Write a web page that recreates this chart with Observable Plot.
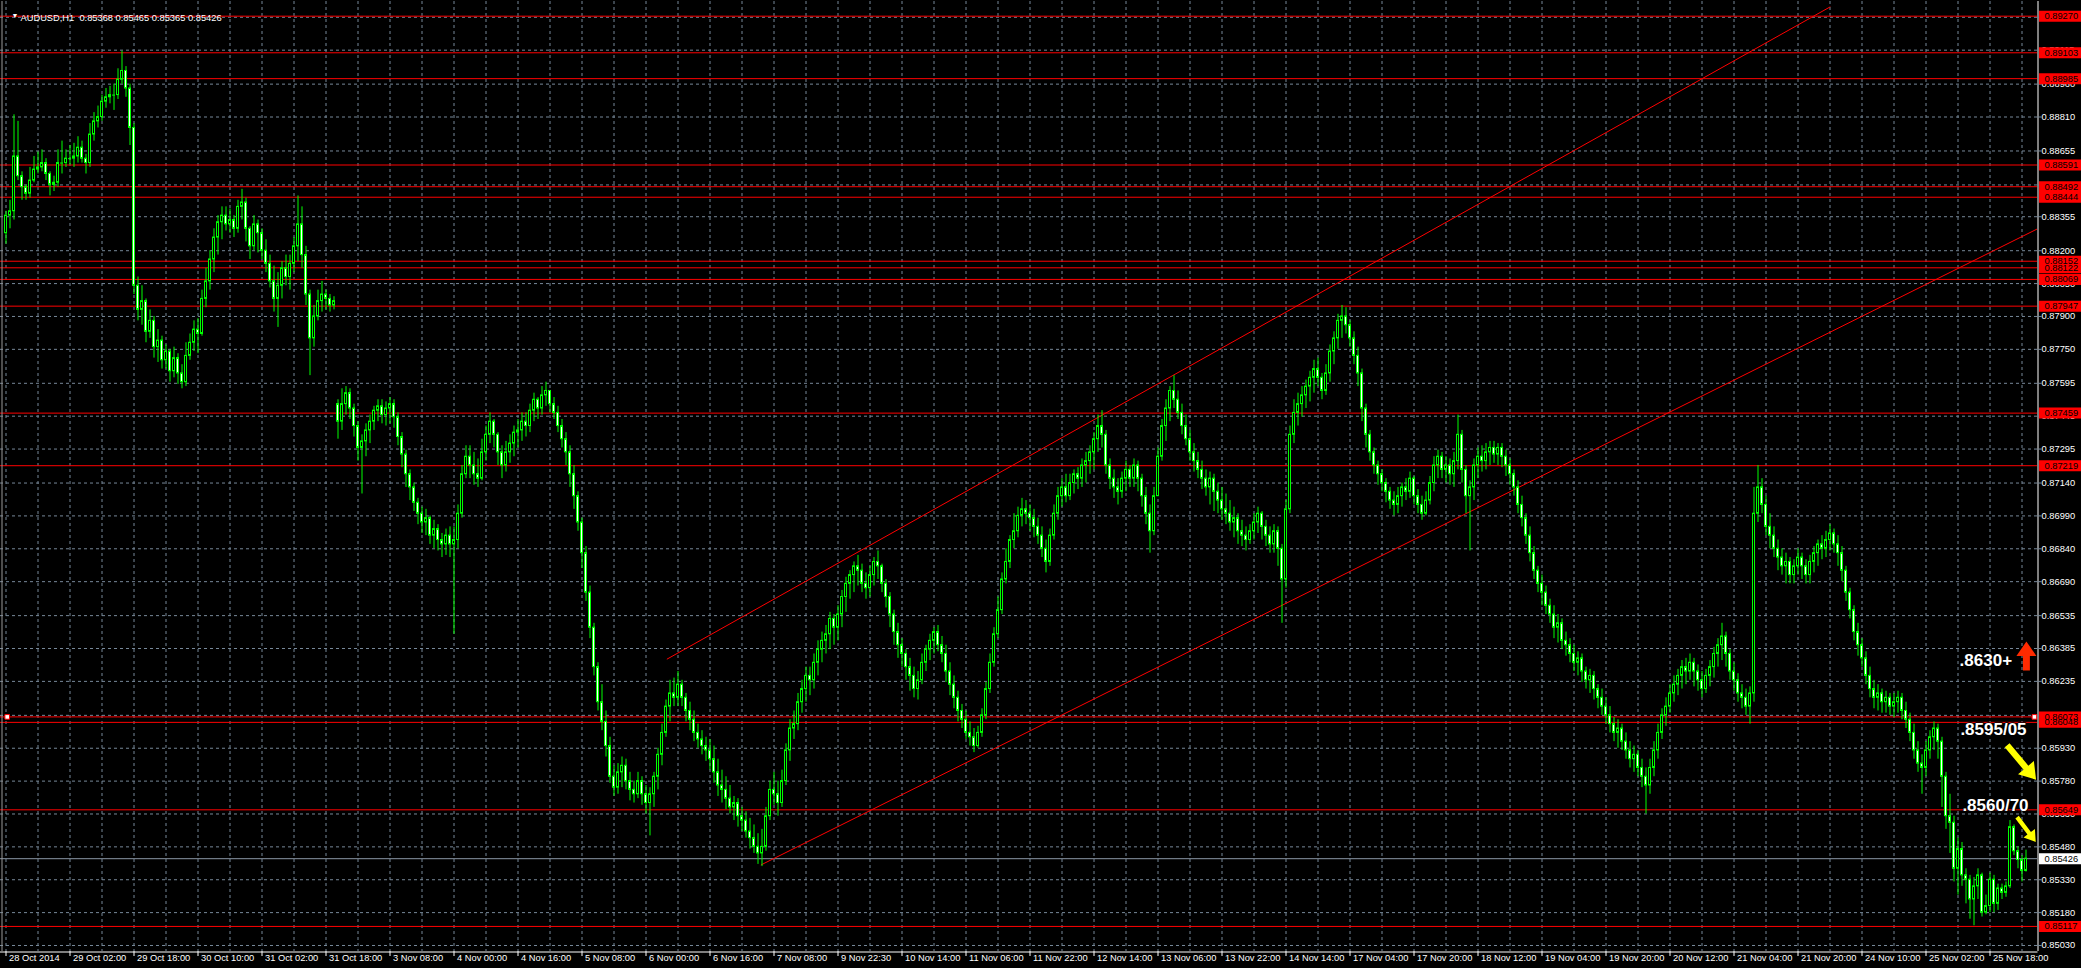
<!DOCTYPE html>
<html><head><meta charset="utf-8">
<script src="https://cdn.jsdelivr.net/npm/d3@7"></script>
<script src="https://cdn.jsdelivr.net/npm/@observablehq/plot@0.6"></script>
<style>
html,body{margin:0;padding:0;background:#000;overflow:hidden}
svg{display:block}
</style></head><body>
<div id="chart"></div>
<script>
// ---------- data ----------
const symbolName = "AUDUSD", timeframe = "H1";
const lastOHLC = [0.85368, 0.85465, 0.85365, 0.85426];

const timeLabels = ["28 Oct 2014","29 Oct 02:00","29 Oct 18:00","30 Oct 10:00","31 Oct 02:00","31 Oct 18:00",
  "3 Nov 08:00","4 Nov 00:00","4 Nov 16:00","5 Nov 08:00","6 Nov 00:00","6 Nov 16:00","7 Nov 08:00",
  "9 Nov 22:30","10 Nov 14:00","11 Nov 06:00","11 Nov 22:00","12 Nov 14:00","13 Nov 06:00","13 Nov 22:00",
  "14 Nov 14:00","17 Nov 04:00","17 Nov 20:00","18 Nov 12:00","19 Nov 04:00","19 Nov 20:00","20 Nov 12:00",
  "21 Nov 04:00","21 Nov 20:00","24 Nov 10:00","25 Nov 02:00","25 Nov 18:00"];

// hourly bars, prices x 0.0001 (open = previous close unless listed in gapOpens)
const firstOpen = 8828;
const gapOpens = [[83, 8750]];
const closes = [
 8836,8838,8863,8854,8849,8846,8852,8857,8858,8860,8855,8850,8851,8860,8860,8862,
 8862,8863,8867,8862,8860,8873,8879,8881,8888,8890,8891,8891,8898,8902,8894,8876,
 8804,8793,8797,8783,8788,8776,8779,8770,8774,8765,8771,8764,8760,8772,8778,8784,
 8782,8798,8806,8816,8826,8833,8836,8832,8834,8830,8840,8842,8830,8822,8832,8828,
 8820,8814,8806,8798,8804,8812,8808,8814,8822,8832,8818,8800,8780,8790,8797,8800,
 8798,8795,8797,8742,8750,8755,8748,8740,8730,8733,8738,8742,8747,8749,8745,8748,
 8750,8744,8735,8727,8718,8712,8705,8700,8696,8698,8690,8693,8688,8686,8690,8686,
 8688,8700,8718,8726,8722,8718,8716,8728,8736,8742,8736,8728,8722,8728,8732,8737,
 8738,8742,8740,8747,8752,8748,8754,8756,8750,8746,8740,8734,8728,8718,8708,8696,
 8682,8664,8648,8630,8614,8605,8594,8580,8575,8582,8585,8578,8574,8572,8578,8572,
 8568,8572,8580,8590,8600,8612,8618,8616,8622,8616,8610,8606,8600,8597,8594,8592,
 8588,8582,8576,8574,8570,8566,8568,8562,8560,8555,8552,8548,8545,8548,8562,8574,
 8572,8568,8578,8592,8602,8604,8614,8620,8626,8624,8632,8638,8642,8645,8652,8648,
 8654,8662,8668,8672,8676,8674,8668,8666,8672,8678,8676,8668,8662,8654,8646,8640,
 8636,8630,8626,8620,8624,8632,8638,8642,8646,8640,8636,8628,8622,8616,8610,8606,
 8600,8598,8594,8600,8608,8620,8632,8645,8656,8670,8678,8688,8692,8699,8702,8700,
 8698,8694,8690,8684,8678,8690,8700,8708,8712,8708,8714,8718,8716,8722,8724,8728,
 8734,8740,8736,8722,8716,8712,8710,8716,8720,8716,8722,8716,8708,8700,8692,8708,
 8726,8740,8748,8756,8752,8746,8740,8734,8728,8724,8720,8716,8712,8716,8710,8706,
 8702,8700,8696,8698,8692,8690,8688,8692,8696,8700,8694,8690,8686,8692,8684,8670,
 8702,8736,8746,8750,8754,8758,8762,8766,8762,8756,8764,8774,8780,8788,8790,8786,
 8780,8772,8764,8748,8736,8728,8722,8718,8714,8710,8706,8704,8708,8712,8710,8716,
 8708,8704,8700,8706,8714,8722,8726,8720,8722,8718,8724,8736,8720,8708,8712,8722,
 8726,8724,8728,8730,8727,8730,8726,8722,8718,8712,8704,8698,8690,8682,8674,8668,
 8664,8658,8654,8648,8650,8642,8640,8636,8632,8634,8628,8624,8626,8620,8616,8612,
 8608,8604,8600,8602,8596,8592,8588,8590,8584,8580,8576,8584,8592,8600,8608,8612,
 8618,8622,8626,8630,8628,8632,8628,8624,8620,8626,8630,8636,8640,8644,8636,8628,
 8624,8618,8616,8612,8618,8700,8712,8704,8694,8690,8684,8680,8676,8678,8672,8676,
 8680,8676,8672,8678,8682,8686,8684,8688,8691,8686,8682,8674,8664,8656,8646,8640,
 8634,8626,8620,8616,8618,8614,8616,8612,8614,8616,8610,8606,8600,8592,8586,8584,
 8592,8598,8602,8596,8580,8562,8559,8538,8547,8535,8533,8524,8530,8535,8518,8521,
 8533,8522,8529,8527,8530,8557,8546,8542,8537,8542.6
];
const highs = [
 8838,8843,8882,8879,8856,8850,8858,8863,8865,8866,8862,8856,8854,8866,8870,8866,
 8868,8869,8872,8870,8864,8878,8883,8886,8891,8894,8895,8896,8903,8911,8904,8896,
 8878,8808,8804,8798,8793,8790,8784,8781,8777,8775,8776,8773,8768,8778,8782,8788,
 8789,8802,8812,8820,8830,8836,8840,8840,8839,8836,8843,8848,8844,8831,8836,8834,
 8830,8825,8818,8813,8810,8815,8818,8818,8826,8845,8840,8822,8802,8795,8802,8806,
 8802,8800,8799,8752,8757,8758,8757,8750,8742,8736,8741,8745,8749,8752,8752,8751,
 8753,8752,8746,8737,8729,8720,8714,8707,8703,8702,8699,8697,8695,8691,8693,8694,
 8694,8704,8722,8731,8731,8728,8725,8734,8740,8746,8743,8737,8731,8733,8736,8740,
 8743,8746,8746,8750,8755,8753,8758,8760,8756,8753,8749,8743,8737,8731,8722,8710,
 8698,8685,8667,8650,8632,8622,8610,8598,8585,8586,8589,8588,8582,8578,8582,8580,
 8576,8575,8582,8593,8604,8615,8624,8625,8628,8624,8618,8614,8610,8604,8601,8598,
 8597,8594,8588,8583,8580,8576,8571,8570,8566,8564,8561,8558,8554,8556,8566,8578,
 8582,8578,8583,8595,8606,8610,8618,8624,8630,8630,8636,8642,8646,8649,8655,8654,
 8658,8665,8671,8674,8678,8681,8677,8673,8676,8680,8683,8677,8670,8664,8656,8650,
 8643,8638,8634,8630,8628,8636,8640,8645,8648,8649,8644,8640,8632,8626,8619,8613,
 8610,8605,8602,8603,8611,8623,8636,8648,8662,8673,8684,8690,8700,8703,8707,8706,
 8704,8702,8698,8694,8688,8693,8704,8712,8716,8718,8718,8720,8721,8725,8728,8731,
 8737,8745,8747,8738,8725,8720,8716,8719,8724,8722,8725,8724,8718,8712,8704,8712,
 8730,8743,8752,8758,8763,8756,8750,8745,8738,8732,8728,8724,8720,8719,8718,8714,
 8712,8709,8706,8703,8700,8697,8694,8695,8700,8703,8701,8697,8694,8695,8694,8686,
 8706,8740,8752,8755,8758,8761,8765,8770,8771,8764,8768,8777,8783,8791,8795,8794,
 8788,8783,8776,8766,8750,8738,8730,8724,8720,8716,8712,8710,8712,8714,8716,8719,
 8717,8711,8708,8710,8717,8726,8729,8728,8726,8725,8728,8745,8738,8722,8715,8725,
 8730,8731,8732,8733,8733,8732,8732,8729,8725,8720,8715,8708,8700,8694,8685,8676,
 8672,8667,8661,8658,8654,8652,8646,8643,8640,8637,8636,8630,8629,8628,8622,8620,
 8616,8612,8607,8606,8604,8600,8596,8594,8592,8588,8584,8588,8596,8604,8611,8616,
 8622,8626,8629,8633,8634,8636,8634,8631,8628,8629,8633,8639,8643,8650,8646,8638,
 8632,8627,8622,8620,8621,8712,8722,8716,8708,8700,8694,8688,8684,8682,8680,8679,
 8684,8682,8679,8681,8685,8688,8690,8692,8695,8693,8690,8685,8676,8666,8658,8650,
 8643,8637,8630,8624,8622,8620,8619,8618,8618,8619,8618,8614,8609,8604,8596,8590,
 8596,8601,8605,8604,8598,8582,8572,8562,8552,8550,8538,8535,8534,8538,8536,8526,
 8536,8535,8531,8531,8532,8560,8558,8548,8544,8546.5
];
const lows = [
 8823,8830,8834,8852,8843,8843,8844,8851,8855,8856,8852,8845,8847,8849,8855,8858,
 8859,8858,8860,8860,8855,8858,8870,8876,8879,8885,8887,8884,8889,8896,8890,8868,
 8800,8788,8786,8778,8780,8771,8769,8766,8766,8760,8762,8759,8757,8758,8770,8774,
 8773,8781,8794,8802,8810,8818,8825,8829,8828,8826,8828,8834,8824,8816,8820,8819,
 8816,8810,8803,8792,8785,8798,8804,8802,8810,8815,8812,8795,8763,8776,8788,8792,
 8793,8792,8793,8734,8738,8745,8743,8735,8724,8709,8726,8732,8738,8742,8741,8740,
 8741,8739,8731,8721,8712,8706,8701,8695,8691,8690,8686,8684,8683,8680,8681,8680,
 8645,8684,8698,8716,8716,8713,8712,8715,8724,8732,8730,8722,8716,8719,8723,8726,
 8730,8733,8735,8737,8742,8743,8745,8749,8746,8743,8737,8730,8722,8712,8702,8692,
 8675,8660,8643,8626,8610,8601,8589,8577,8571,8572,8575,8574,8569,8568,8570,8567,
 8563,8553,8566,8574,8585,8598,8605,8612,8612,8612,8605,8601,8596,8593,8590,8587,
 8583,8577,8571,8568,8565,8563,8560,8557,8555,8552,8547,8545,8540,8539,8546,8560,
 8567,8562,8566,8576,8587,8597,8601,8609,8614,8617,8620,8626,8632,8636,8638,8640,
 8642,8648,8655,8661,8664,8667,8664,8661,8662,8667,8670,8664,8657,8648,8640,8634,
 8630,8624,8619,8616,8615,8622,8628,8633,8636,8637,8632,8623,8617,8611,8605,8602,
 8597,8594,8591,8593,8598,8606,8618,8630,8643,8654,8668,8675,8684,8689,8694,8695,
 8692,8689,8686,8680,8673,8676,8688,8697,8703,8705,8706,8709,8711,8712,8714,8718,
 8720,8728,8730,8718,8711,8707,8704,8707,8710,8712,8712,8710,8703,8695,8682,8690,
 8708,8724,8733,8742,8748,8743,8736,8731,8724,8719,8716,8711,8708,8704,8701,8700,
 8697,8695,8692,8689,8686,8685,8683,8686,8688,8691,8688,8685,8682,8682,8676,8650,
 8666,8700,8732,8740,8744,8748,8751,8755,8758,8752,8754,8760,8768,8775,8780,8782,
 8776,8768,8758,8742,8730,8724,8718,8713,8710,8705,8702,8699,8700,8703,8706,8707,
 8704,8700,8697,8699,8704,8710,8716,8716,8714,8713,8712,8720,8714,8700,8683,8706,
 8716,8719,8720,8722,8723,8722,8721,8717,8713,8708,8700,8694,8686,8678,8670,8664,
 8658,8654,8650,8643,8641,8638,8635,8632,8628,8626,8623,8620,8618,8615,8611,8608,
 8604,8600,8596,8593,8592,8588,8584,8582,8580,8575,8563,8572,8580,8588,8597,8603,
 8609,8614,8617,8620,8622,8624,8621,8619,8616,8618,8621,8625,8630,8633,8630,8624,
 8619,8614,8611,8608,8604,8614,8696,8700,8690,8684,8680,8674,8672,8668,8668,8668,
 8672,8670,8668,8668,8673,8676,8679,8680,8683,8682,8676,8669,8660,8652,8642,8635,
 8630,8622,8616,8611,8610,8609,8609,8608,8607,8609,8606,8602,8596,8588,8582,8572,
 8580,8588,8592,8588,8566,8556,8545,8532,8526,8530,8522,8515,8512,8524,8516,8517,
 8518,8518,8519,8524,8525,8529,8544,8538,8532,8536.5
];

const levelPrices = [0.89270,0.89103,0.88985,0.88591,0.88492,0.88444,0.88122,0.88152,0.88069,
  0.87947,0.87459,0.87219,0.86073,0.86048,0.85649,0.85117];
const bidPrice = 0.85426;
const gridPrices = [0.85030,0.85180,0.85330,0.85480,0.85630,0.85780,0.85930,0.86080,0.86235,0.86385,
  0.86535,0.86690,0.86840,0.86990,0.87140,0.87295,0.87445,0.87595,0.87750,0.87900,0.88050,0.88200,
  0.88355,0.88500,0.88655,0.88810,0.88960,0.89115,0.89265];

const trendUpper = [{i:165.3, p:0.86337},{i:456.0, p:0.89312}];
const trendLower = [{i:188.8, p:0.85398},{i:507.9, p:0.88300}];

const notes = [
  {text:".8630+",   i:488.4, p:0.86330},
  {text:".8595/05", i:488.6, p:0.86016},
  {text:".8560/70", i:489.1, p:0.85669}
];
const redArrows = [{i:505.1, p:0.86351, rot:0, r:14.5}];
const yellowArrows = [{i:503.9, p:0.85865, rot:140, r:22.5},{i:505.1, p:0.85559, rot:143, r:15.5}];
const handles = [{i:0.3, p:0.86073},{i:507.1, p:0.86073}];

// ---------- geometry ----------
const BARS_PER_LABEL = 16, BARS_PER_GRID = 8;
const xDomain = [-1.375, 507.875];           // bar index -> 4 px per bar
const yDomain = [0.850026, 0.893370];
const pxPerPrice = 950 / (yDomain[1] - yDomain[0]);
const belowAxis = px => yDomain[0] - px / pxPerPrice;

const gapMap = new Map(gapOpens);
const bars = closes.map((c, k) => {
  const o = gapMap.get(k) ?? (k ? closes[k - 1] : firstOpen);
  const hi = Math.max(o, c, highs[k]), lo = Math.min(o, c, lows[k]);
  return {i: k, o: o / 1e4, c: c / 1e4, hi: hi / 1e4, lo: lo / 1e4};
});
const bodies = bars.filter(d => d.o !== d.c);
const dojis = bars.filter(d => d.o === d.c);
const gridIdx = d3.range(0, closes.length, BARS_PER_GRID);
const labelIdx = timeLabels.map((_, k) => k * BARS_PER_LABEL);

const upArrow = {draw(ctx, size){const r=Math.sqrt(size/Math.PI);
  ctx.moveTo(0,-r);ctx.lineTo(0.69*r,0);ctx.lineTo(0.24*r,0);ctx.lineTo(0.24*r,r);
  ctx.lineTo(-0.24*r,r);ctx.lineTo(-0.24*r,0);ctx.lineTo(-0.69*r,0);ctx.closePath();}};
const thinArrow = {draw(ctx, size){const r=Math.sqrt(size/Math.PI);
  ctx.moveTo(0,-r);ctx.lineTo(0.46*r,-0.3*r);ctx.lineTo(0.14*r,-0.3*r);ctx.lineTo(0.14*r,r);
  ctx.lineTo(-0.14*r,r);ctx.lineTo(-0.14*r,-0.3*r);ctx.lineTo(-0.46*r,-0.3*r);ctx.closePath();}};

const GREEN = "#00ff00", GRID = "#778899", RED = "#ff0000";
const labelX1 = 508.375, labelX2 = 518.875;

const chart = Plot.plot({
  width: 2081, height: 968,
  marginTop: 1, marginRight: 44, marginBottom: 17, marginLeft: 0,
  style: {background: "#000", color: "#fff", fontFamily: "'Liberation Sans', Arial, sans-serif", fontSize: "9.3px"},
  x: {type: "linear", domain: xDomain, axis: null},
  y: {type: "linear", domain: yDomain, axis: null},
  r: {type: "identity"},
  marks: [
    Plot.ruleX(gridIdx, {x: d => d, stroke: GRID, strokeDasharray: "3,3"}),
    Plot.ruleY(gridPrices, {y: d => d, stroke: GRID, strokeDasharray: "3,3"}),
    Plot.ruleY(levelPrices, {y: d => d, stroke: RED, strokeWidth: 1}),
    Plot.ruleY([bidPrice], {y: d => d, stroke: "#8a97a6"}),
    Plot.line(trendUpper, {x: "i", y: "p", stroke: RED, strokeWidth: 1, clip: true}),
    Plot.line(trendLower, {x: "i", y: "p", stroke: RED, strokeWidth: 1, clip: true}),
    Plot.ruleX(bars, {x: "i", y1: "lo", y2: "hi", stroke: GREEN}),
    Plot.rect(bodies, {x1: d => d.i - 0.25, x2: d => d.i + 0.25, y1: "o", y2: "c",
      fill: d => d.c > d.o ? "#000" : "#fff", stroke: GREEN, strokeWidth: 1}),
    Plot.ruleY(dojis, {y: "c", x1: d => d.i - 0.375, x2: d => d.i + 0.375, stroke: GREEN}),
    Plot.dot(handles, {x: "i", y: "p", symbol: "square", r: 2.6, fill: "#fff", stroke: RED, strokeWidth: 1}),
    Plot.ruleX([508], {stroke: "#fff"}),
    Plot.ruleX([-1], {stroke: "#9a9a9a"}),
    Plot.ruleY([belowAxis(0.5)], {stroke: "#fff", x1: xDomain[0], x2: 508}),
    Plot.ruleY(gridPrices, {y: d => d, x1: 508, x2: 509, stroke: GRID}),
    Plot.text(gridPrices, {y: d => d, x: 508.9, text: d => d.toFixed(5), textAnchor: "start", fill: "#fff"}),
    Plot.ruleY(levelPrices, {y: d => d, x1: labelX1, x2: labelX2, stroke: RED, strokeWidth: 11}),
    Plot.text(levelPrices, {y: d => d, x: labelX1, dx: 5, text: d => d.toFixed(5), textAnchor: "start", fill: "#000"}),
    Plot.ruleY([bidPrice], {y: d => d, x1: labelX1, x2: labelX2, stroke: "#fff", strokeWidth: 11}),
    Plot.text([bidPrice], {y: d => d, x: labelX1, dx: 5, text: d => d.toFixed(5), textAnchor: "start", fill: "#000"}),
    Plot.ruleX(labelIdx, {x: d => d, y1: belowAxis(0), y2: belowAxis(5), stroke: "#fff"}),
    Plot.text(timeLabels, {x: (d, k) => labelIdx[k], frameAnchor: "bottom", dy: 9, dx: 3, textAnchor: "start", fill: "#fff"}),
    Plot.text(["\u25BC"], {frameAnchor: "top-left", dx: 11, dy: 12, fill: "#fff", fontSize: 7}),
    Plot.text([`${symbolName},${timeframe}\u00a0\u00a0${lastOHLC.map(v => v.toFixed(5)).join(" ")}`],
      {frameAnchor: "top-left", dx: 20, dy: 13, textAnchor: "start", fill: "#fff"}),
    Plot.text(notes, {x: "i", y: "p", text: "text", textAnchor: "start", fill: "#fff",
      fontSize: 17, fontWeight: "bold", stroke: "#000", strokeWidth: 1.5, paintOrder: "stroke"}),
    Plot.dot(redArrows, {x: "i", y: "p", r: "r", rotate: "rot", symbol: upArrow, fill: "#ff2a00", stroke: null}),
    Plot.dot(yellowArrows, {x: "i", y: "p", r: "r", rotate: "rot", symbol: thinArrow, fill: "#ffff00", stroke: null})
  ]
});
document.getElementById("chart").appendChild(chart);
</script>
</body></html>
